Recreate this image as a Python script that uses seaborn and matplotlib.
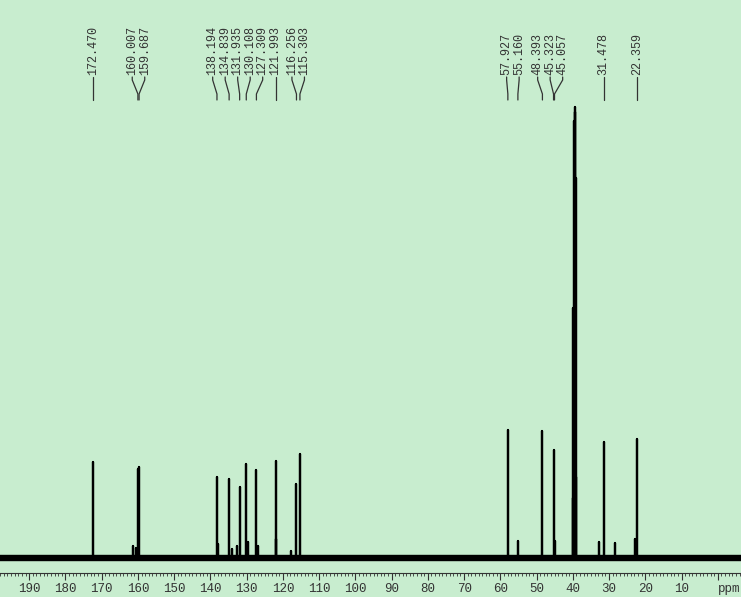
import numpy as np
import pandas as pd
import matplotlib
matplotlib.use("Agg")
import matplotlib.pyplot as plt
import seaborn as sns

# labelled 13C peaks (ppm) and their heights (arbitrary units, baseline = 0)
peak_ppm = [172.470, 160.007, 159.687, 138.194, 134.839, 131.935, 130.108,
            127.309, 121.993, 116.256, 115.303, 57.927, 55.160, 48.393,
            45.323, 45.057, 31.478, 22.359]
peak_height = [96, 89, 91, 81, 79, 71, 94, 88, 97, 74, 104, 128, 17, 127,
               108, 17, 116, 119]

# small unlabelled signals / shoulders
minor_ppm = [161.3, 160.5, 138.0, 134.1, 132.7, 129.7, 126.9, 121.8, 117.8,
             32.8, 28.3, 22.8]
minor_height = [12, 10, 14, 9, 12, 16, 12, 19, 7, 16, 15, 19]

# DMSO-d6 solvent septet
dmso_ppm = [40.02, 39.85, 39.69, 39.52, 39.35, 39.19, 39.02]
dmso_height = [60, 250, 437, 451, 446, 380, 81]

tick_ppm = list(range(190, 0, -10))

BG = "#c8edcf"
INK = "#333333"

sns.set_theme(style="white")
plt.rcParams["font.family"] = ["Liberation Mono", "DejaVu Sans Mono"]

# stick spectrum as one trace
rows = []
sticks = sorted(zip(peak_ppm + minor_ppm + dmso_ppm,
                    peak_height + minor_height + dmso_height), reverse=True)
for i, (p, h) in enumerate(sticks):
    rows += [(i * 3, p, 0.0), (i * 3 + 1, p, h), (i * 3 + 2, p, 0.0)]
spec = pd.DataFrame(rows, columns=["order", "ppm", "intensity"])

xmin, xmax = 198.06, -6.4
base = pd.DataFrame({"ppm": [xmin, xmax], "intensity": [0.0, 0.0]})

fig = plt.figure(figsize=(7.41, 5.97), dpi=100, facecolor=BG)
ax = fig.add_axes([0, 24 / 597, 1, 573 / 597])
ax.set_facecolor(BG)

# noise band
sns.lineplot(data=base, x="ppm", y="intensity", ax=ax, color="black",
             lw=4.6, sort=False, estimator=None)
sns.lineplot(data=spec, x="ppm", y="intensity", ax=ax, color="black",
             lw=1.6, sort=False, estimator=None)

ax.set_xlim(xmin, xmax)
ax.set_ylim(-15, 558)

# label layout: spread labels so they don't overlap
gap = 12.5 / 3.624
order = sorted(range(len(peak_ppm)), key=lambda k: -peak_ppm[k])
clusters = [[k] for k in order]
changed = True
while changed:
    changed = False
    pos = []
    for c in clusters:
        m = np.mean([peak_ppm[k] for k in c])
        pos.append([m + gap * ((len(c) - 1) / 2 - j) for j in range(len(c))])
    for i in range(len(clusters) - 1):
        if pos[i][-1] - pos[i + 1][0] < gap:
            clusters[i] = clusters[i] + clusters[i + 1]
            del clusters[i + 1]
            changed = True
            break
label_x = {}
for c, ps in zip(clusters, pos):
    for k, x in zip(c, ps):
        label_x[k] = x

y_text = 558 - 75
for k in range(len(peak_ppm)):
    lx, px = label_x[k], peak_ppm[k]
    ax.text(lx, y_text, f"{px:.3f}", rotation=90, ha="center", va="bottom",
            fontsize=8.5, color=INK)
    ax.plot([lx, lx, px, px], [558 - 77, 558 - 80, 558 - 94, 558 - 100],
            color=INK, lw=0.9)

ax.set_xticks(tick_ppm + [0])
ax.set_xticklabels([str(t) for t in tick_ppm] + [""], fontsize=9, color=INK)
ax.text(0, -0.018, "ppm", transform=ax.get_xaxis_transform(), ha="left",
        va="top", fontsize=9, color=INK)
ax.set_xticks(np.arange(-6, 199, 1), minor=True)
ax.tick_params(axis="x", which="major", direction="out", length=5, width=0.8,
               color=INK, pad=2, bottom=True)
ax.tick_params(axis="x", which="minor", direction="out", length=2, width=0.6,
               color=INK, bottom=True)
ax.set_yticks([])
ax.set_xlabel("")
ax.set_ylabel("")
for s in ["left", "right", "top"]:
    ax.spines[s].set_visible(False)
ax.spines["bottom"].set_color(INK)
ax.spines["bottom"].set_linewidth(0.8)
if ax.get_legend():
    ax.get_legend().remove()

fig.savefig("out.png", dpi=100, facecolor=BG)
